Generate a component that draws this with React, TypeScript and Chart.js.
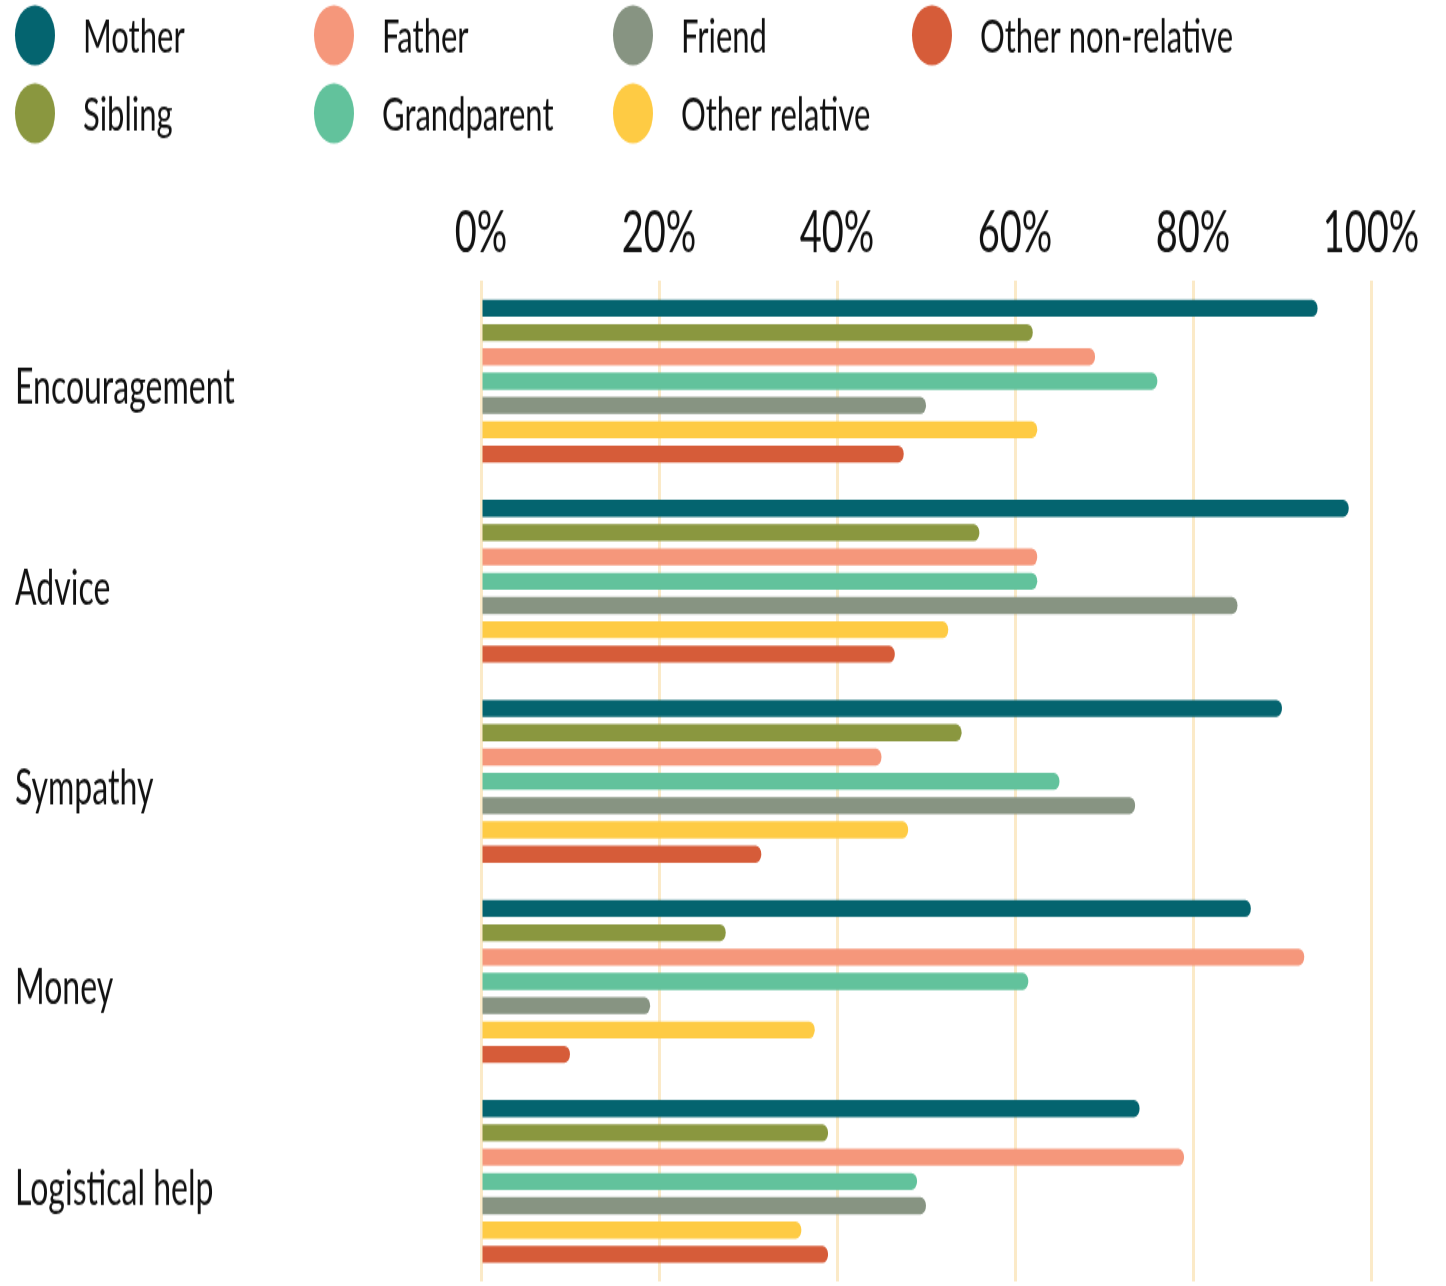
import React, { useEffect, useRef } from 'react';
import { Chart, registerables } from 'chart.js';

Chart.register(...registerables);

// ---- data ----
const categories = ['Encouragement', 'Advice', 'Sympathy', 'Money', 'Logistical help'];
const seriesNames = ['Mother', 'Sibling', 'Father', 'Grandparent', 'Friend', 'Other relative', 'Other non-relative'];
const seriesColors = ['#04646f', '#8a973f', '#f5977b', '#62c29c', '#879482', '#fecb44', '#d65c39'];
const mother = [94, 97.5, 90, 86.5, 74];
const sibling = [62, 56, 54, 27.5, 39];
const father = [69, 62.5, 45, 92.5, 79];
const grandparent = [76, 62.5, 65, 61.5, 49];
const friend = [50, 85, 73.5, 19, 50];
const otherRelative = [62.5, 52.5, 48, 37.5, 36];
const otherNonRelative = [47.5, 46.5, 31.5, 10, 39];
const seriesValues = [mother, sibling, father, grandparent, friend, otherRelative, otherNonRelative];
const xMin = 0;
const xMax = 100;
const xStep = 20;

// ---- layout (canvas is drawn at W x H and stretched vertically to W x SH) ----
const W = 1446;
const H = 857;
const SH = 1286;
const FONT = 'Lato, "Open Sans", sans-serif';
const WEIGHT = '400';

const columnLegend = {
  id: 'columnLegend',
  afterDraw(chart: any) {
    const ctx = chart.ctx;
    ctx.save();
    ctx.font = `${WEIGHT} 31px ${FONT}`;
    ctx.textBaseline = 'middle';
    ctx.textAlign = 'left';
    chart.data.datasets.forEach((ds: any, i: number) => {
      const col = Math.floor(i / 2);
      const row = i % 2;
      const cx = 35 + col * 299;
      const cy = 23.5 + row * 52;
      ctx.fillStyle = ds.backgroundColor;
      ctx.beginPath();
      ctx.arc(cx, cy, 20, 0, Math.PI * 2);
      ctx.fill();
      ctx.fillStyle = '#111';
      ctx.fillText(ds.label, cx + 48, cy + 1);
    });
    ctx.restore();
  },
};

export default function App() {
  const ref = useRef<HTMLCanvasElement | null>(null);

  useEffect(() => {
    if (!ref.current) return;
    const chart = new Chart(ref.current, {
      type: 'bar',
      data: {
        labels: categories,
        datasets: seriesNames.map((name, i) => ({
          label: name,
          data: seriesValues[i],
          backgroundColor: seriesColors[i],
          borderWidth: 0,
          borderRadius: 8,
          borderSkipped: 'start',
          categoryPercentage: 0.85,
          barPercentage: 0.7,
        })),
      },
      options: {
        indexAxis: 'y',
        animation: false,
        responsive: false,
        devicePixelRatio: 1,
        layout: { padding: { top: 100, left: 15, right: 75, bottom: 3 } },
        plugins: {
          legend: { display: false },
          tooltip: { enabled: false },
        },
        scales: {
          x: {
            position: 'top',
            min: xMin,
            max: xMax,
            grid: { color: '#fbeac8', lineWidth: 3, drawTicks: false },
            border: { display: false },
            ticks: {
              stepSize: xStep,
              padding: 9,
              color: '#111',
              font: { family: FONT, size: 38, weight: WEIGHT, lineHeight: 1.2 },
              callback: (v: any) => `${v}%`,
            },
            afterFit: (s: any) => { s.height = 87.3; },
          },
          y: {
            grid: { display: false, drawTicks: false },
            border: { display: false },
            ticks: {
              crossAlign: 'far',
              color: '#111',
              labelOffset: 5,
              font: { family: FONT, size: 32, weight: WEIGHT, lineHeight: 1.2 },
            },
            afterFit: (s: any) => {
              s.width = 466;
              s.paddingTop = 0;
              s.paddingBottom = 0;
            },
          },
        },
      },
      plugins: [columnLegend],
    });
    return () => chart.destroy();
  }, []);

  return (
    <div style={{ position: 'absolute', left: 0, top: 0, width: W, height: SH, background: '#fff' }}>
      <canvas
        ref={ref}
        width={W}
        height={H}
        style={{ display: 'block', width: `${W}px`, height: `${SH}px` }}
      />
    </div>
  );
}
